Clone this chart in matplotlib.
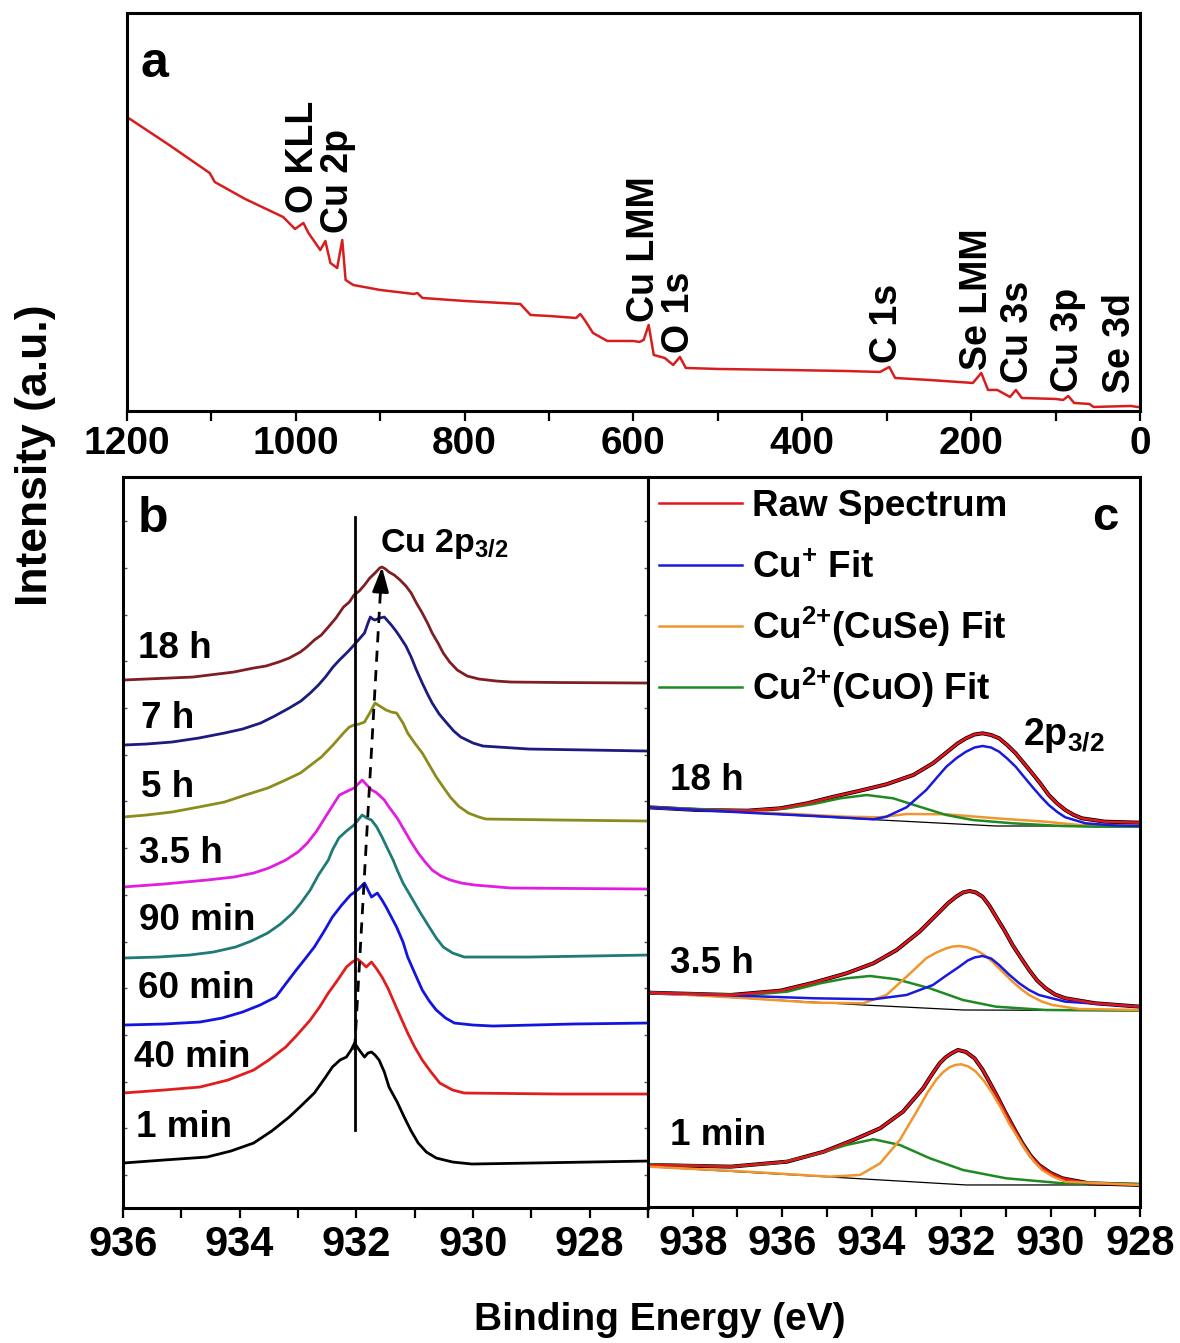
import numpy as np
import matplotlib
matplotlib.use("Agg")
import matplotlib.pyplot as plt
from matplotlib.ticker import MultipleLocator

# ---------------- survey spectrum (panel a) ----------------
survey_ev = [1200, 1150, 1102, 1096, 1060, 1040, 1015, 1001, 991, 985, 971, 965, 959,
             951, 945, 941, 932, 900, 860, 856, 850, 800, 734, 722, 700, 668, 663, 657,
             648, 631, 616, 600, 593, 588, 582, 576, 563, 553, 545, 538, 500, 420, 350,
             308, 297, 290, 250, 198, 188, 180, 169, 154, 147, 140, 100, 91, 85, 78, 60,
             55, 11, 3, 0]
survey_int = [294, 266, 238, 229, 212, 204, 194, 182, 188, 178, 161, 170, 148,
              143, 171, 131, 126, 121, 117, 118, 113, 110, 107, 96, 95, 93, 97, 90,
              78, 70, 70, 70, 69, 71, 86, 56, 53, 46, 54, 43, 42, 41, 40,
              39, 44, 33, 31, 28, 38, 21, 21, 14, 21, 13, 12, 11, 15, 8, 7,
              4, 5, 4, 4]
peak_names = ["O KLL", "Cu 2p", "Cu LMM", "O 1s", "C 1s", "Se LMM", "Cu 3s", "Cu 3p", "Se 3d"]
peak_label_ev = [991.5, 950, 587, 546, 299.5, 193, 144, 85, 23.5]
peak_label_y = [198, 178, 89, 58, 48, 41, 28, 19, 18]

# ---------------- Cu 2p3/2 time series (panel b) ----------------
b_labels = ["18 h", "7 h", "5 h", "3.5 h", "90 min", "60 min", "40 min", "1 min"]
b_colors = ["#7f1f24", "#1c1c7e", "#8c8c1e", "#e01ee0", "#1f7a78", "#1414e0", "#e01e1e", "#000000"]
b_label_ev = [935.74, 935.69, 935.69, 935.73, 935.73, 935.74, 935.81, 935.78]
b_label_y = [550, 480, 411, 345, 278, 210, 141, 71]

ev_18h = [936.0, 935.6, 935.2, 934.8, 934.38, 934.1, 933.76, 933.55, 933.33, 933.15,
          932.96, 932.85, 932.72, 932.6, 932.48, 932.35, 932.22, 932.12, 932.04, 931.95,
          931.86, 931.77, 931.68, 931.6, 931.56, 931.5, 931.44, 931.35, 931.25, 931.15,
          931.06, 930.97, 930.87, 930.78, 930.70, 930.6, 930.51, 930.4, 930.27, 930.1,
          929.90, 929.6, 929.35, 928.5, 927.0]
int_18h = [528, 529, 530, 531, 534, 536, 540, 542, 546, 550,
           556, 561, 568, 573, 581, 590, 601, 606, 613, 617,
           623, 630, 635, 640, 641, 639, 636, 633, 628, 622,
           615, 605, 595, 585, 575, 565, 555, 546, 538, 532,
           529, 527, 526, 525.5, 525]
ev_7h = [936.0, 935.6, 935.16, 934.7, 934.26, 933.95, 933.64, 933.4, 933.15, 932.95,
         932.79, 932.65, 932.53, 932.4, 932.29, 932.15, 932.04, 931.95, 931.86, 931.8,
         931.76, 931.72, 931.68, 931.6, 931.52, 931.46, 931.40, 931.32, 931.25, 931.15,
         931.06, 930.97, 930.87, 930.78, 930.70, 930.58, 930.45, 930.33, 930.21, 930.0,
         929.83, 929.04, 928.0, 927.0]
int_7h = [463, 464, 466, 470, 475, 479, 485, 492, 500, 507,
          515, 523, 531, 541, 548, 556, 563, 569, 575, 585,
          591, 589, 588, 590, 591, 587, 583, 577, 571, 562,
          551, 538, 525, 514, 505, 494, 485, 477, 471, 465,
          462, 459, 458, 457]
ev_5h = [936.0, 935.6, 935.16, 934.7, 934.26, 933.9, 933.52, 933.25, 932.96, 932.78,
         932.60, 932.4, 932.22, 932.12, 932.04, 931.95, 931.86, 931.77, 931.68, 931.6,
         931.49, 931.4, 931.31, 931.2, 931.12, 931.0, 930.87, 930.75, 930.63, 930.5,
         930.39, 930.25, 930.08, 929.9, 929.78, 928.5, 927.0]
int_5h = [391, 393, 396, 401, 406, 413, 420, 427, 435, 443,
          451, 463, 475, 481, 483, 484, 486, 495, 505, 502,
          498, 496, 495, 485, 475, 465, 455, 443, 431, 420,
          411, 402, 395, 391, 389, 388, 387]
ev_3h5 = [936.0, 935.3, 934.56, 934.1, 933.76, 933.5, 933.21, 933.0, 932.84, 932.68,
          932.53, 932.4, 932.29, 932.15, 932.04, 931.97, 931.90, 931.82, 931.74, 931.67,
          931.61, 931.52, 931.44, 931.3, 931.18, 931.06, 930.94, 930.82, 930.70, 930.55,
          930.39, 930.2, 929.97, 929.35, 927.0]
int_3h5 = [321, 324, 328, 331, 335, 340, 348, 356, 365, 377,
           391, 403, 413, 417, 420, 424, 428, 423, 418, 416,
           413, 408, 401, 390, 378, 366, 355, 346, 338, 332,
           328, 325, 323, 320, 319]
ev_90m = [936.0, 935.4, 934.86, 934.45, 934.07, 933.8, 933.52, 933.3, 933.09, 932.95,
          932.79, 932.65, 932.48, 932.41, 932.3, 932.17, 932.04, 931.97, 931.90, 931.82,
          931.74, 931.65, 931.56, 931.47, 931.37, 931.3, 931.2, 931.06, 930.9, 930.75,
          930.63, 930.51, 930.35, 930.15, 929.04, 928.0, 927.0]
int_90m = [250, 251, 253, 256, 261, 267, 275, 284, 295, 305,
           318, 333, 348, 358, 370, 377, 383, 388, 393, 390,
           388, 381, 371, 360, 348, 338, 325, 311, 295, 281,
           270, 261, 255, 251, 251, 252, 253]
ev_60m = [936.0, 935.3, 934.68, 934.3, 933.95, 933.65, 933.38, 933.2, 933.03, 932.88,
          932.72, 932.56, 932.41, 932.25, 932.10, 931.98, 931.86, 931.8, 931.74, 931.69,
          931.64, 931.56, 931.49, 931.4, 931.31, 931.2, 931.12, 931.0, 930.87, 930.75,
          930.63, 930.47, 930.32, 930.0, 929.66, 928.3, 927.0]
int_60m = [183, 184, 186, 190, 196, 203, 211, 225, 238, 249,
           261, 276, 291, 303, 313, 318, 325, 318, 311, 313,
           315, 308, 301, 291, 281, 266, 251, 235, 218, 207,
           198, 190, 185, 183, 182, 184, 185]
ev_40m = [936.0, 935.3, 934.68, 934.2, 933.76, 933.5, 933.21, 933.0, 932.79, 932.63,
          932.48, 932.32, 932.17, 932.07, 931.98, 931.9, 931.83, 931.78, 931.74, 931.65,
          931.56, 931.46, 931.37, 931.25, 931.12, 931.0, 930.87, 930.72, 930.57, 930.35,
          930.15, 928.5, 927.0]
int_40m = [115, 118, 121, 128, 138, 148, 161, 174, 188, 201,
           215, 228, 241, 246, 249, 245, 241, 244, 246, 239,
           231, 220, 208, 192, 175, 161, 148, 136, 125, 118,
           115, 114, 114]
ev_1m = [936.0, 935.3, 934.56, 934.15, 933.76, 933.45, 933.15, 932.95, 932.72, 932.55,
         932.41, 932.28, 932.17, 932.09, 932.03, 931.95, 931.86, 931.8, 931.74, 931.68,
         931.61, 931.52, 931.44, 931.3, 931.18, 931.06, 930.94, 930.8, 930.63, 930.35,
         930.02, 929.0, 927.0]
int_1m = [45, 48, 51, 57, 65, 77, 91, 102, 115, 129,
          141, 148, 151, 158, 165, 158, 151, 155, 156, 153,
          148, 136, 121, 106, 91, 77, 65, 56, 50, 46,
          44, 45, 47]
b_ev = [ev_18h, ev_7h, ev_5h, ev_3h5, ev_90m, ev_60m, ev_40m, ev_1m]
b_int = [int_18h, int_7h, int_5h, int_3h5, int_90m, int_60m, int_40m, int_1m]

# ---------------- peak fitting (panel c) ----------------
c_labels = ["18 h", "3.5 h", "1 min"]
c_label_y = [417, 234, 62]

# 18 h
c18_raw_ev = [939.0, 937.89, 936.78, 936.04, 935.44, 934.85, 934.26, 933.67, 933.07, 932.63,
              932.26, 932.08, 931.89, 931.70, 931.52, 931.33, 931.15, 930.97, 930.78, 930.6,
              930.41, 930.22, 930.04, 929.85, 929.67, 929.48, 929.30, 928.78, 928.0]
c18_raw = [399.7, 397.0, 396.3, 398.7, 403.7, 410.3, 416.3, 422.7, 432.0, 443.7,
           457.0, 463.5, 468.7, 472.5, 473.7, 472.0, 468.7, 462.0, 453.7, 444.0,
           433.7, 423.0, 412.0, 403.5, 397.0, 392.0, 388.7, 385.3, 384.3]
c18_cu1_ev = [939.0, 936.78, 935.30, 933.96, 933.67, 933.22, 932.78, 932.55, 932.33, 932.1,
              931.89, 931.70, 931.52, 931.33, 931.15, 930.97, 930.78, 930.6, 930.41, 930.22,
              930.04, 929.85, 929.67, 929.22, 928.63, 928.0]
c18_cu1 = [399.7, 394.3, 391.0, 387.7, 390.3, 399.7, 417.0, 429.0, 440.3, 449.0,
           455.3, 459.5, 461.0, 459.5, 455.3, 448.5, 440.3, 430.5, 420.3, 410.5,
           402.0, 395.0, 389.7, 383.7, 381.7, 381.0]
c18_cuse_ev = [939.0, 936.78, 934.56, 933.81, 933.22, 932.33, 931.22, 930.11, 929.37, 928.63, 928.0]
c18_cuse = [399.7, 395.3, 390.3, 389.7, 393.0, 392.7, 388.7, 385.3, 382.0, 381.0, 381.0]
c18_cuo_ev = [939.0, 936.78, 935.89, 935.30, 934.70, 934.11, 933.52, 932.93, 932.33, 931.74,
              930.85, 929.74, 929.0, 928.0]
c18_cuo = [399.7, 396.3, 398.7, 403.0, 408.7, 412.0, 408.7, 400.3, 392.0, 387.0,
           383.7, 381.0, 380.3, 380.3]
c18_bg_ev = [939.0, 933.81, 931.22, 928.0]
c18_bg = [399.7, 387.0, 381.0, 381.0]

# 3.5 h
c35_raw_ev = [939.0, 937.15, 936.04, 935.30, 934.56, 933.96, 933.44, 932.93, 932.48, 932.3,
              932.11, 931.96, 931.81, 931.67, 931.52, 931.37, 931.22, 931.03, 930.85, 930.66,
              930.48, 930.3, 930.11, 929.9, 929.67, 929.0, 928.0]
c35_raw = [214.3, 212.0, 216.3, 224.3, 233.7, 243.7, 257.0, 275.3, 295.3, 303.5,
           310.3, 314.5, 316.0, 314.5, 310.3, 301.5, 290.3, 276.5, 262.0, 249.0,
           237.0, 226.5, 218.7, 212.5, 208.7, 203.7, 200.3]
c35_cuse_ev = [939.0, 936.78, 935.30, 934.19, 933.67, 933.22, 932.78, 932.55, 932.33, 932.18,
               932.04, 931.86, 931.67, 931.48, 931.30, 931.08, 930.85, 930.66, 930.48, 930.2,
               929.96, 929.37, 928.0]
c35_cuse = [214.3, 208.7, 204.3, 203.7, 212.0, 230.3, 248.7, 254.5, 258.7, 260.5,
            261.0, 259.7, 257.0, 252.0, 245.3, 235.5, 225.3, 218.0, 212.0, 205.5,
            202.0, 198.0, 197.0]
c35_cu1_ev = [939.0, 936.78, 935.30, 933.96, 933.22, 932.63, 932.33, 932.04, 931.85, 931.70,
              931.52, 931.33, 931.15, 930.93, 930.70, 930.48, 930.26, 929.67, 928.78, 928.0]
c35_cu1 = [214.3, 211.0, 208.7, 207.7, 212.0, 222.0, 231.5, 240.3, 246.5, 249.5,
           251.0, 248.5, 242.0, 232.5, 223.7, 217.0, 212.0, 205.3, 202.7, 200.3]
c35_cuo_ev = [939.0, 936.78, 935.89, 935.15, 934.56, 934.04, 933.44, 932.70, 931.96, 931.22,
              930.11, 928.0]
c35_cuo = [214.3, 212.0, 215.3, 223.7, 228.7, 231.0, 227.7, 218.7, 207.0, 200.3,
           197.0, 196.3]
c35_bg_ev = [939.0, 934.19, 931.96, 928.0]
c35_bg = [214.3, 202.0, 197.0, 196.3]

# 1 min
c1_raw_ev = [939.0, 937.15, 935.89, 935.07, 934.41, 933.81, 933.30, 932.85, 932.66, 932.48,
             932.35, 932.22, 932.07, 931.89, 931.70, 931.53, 931.37, 931.18, 931.0, 930.81,
             930.63, 930.45, 930.26, 930.0, 929.74, 929.15, 928.0]
c1_raw = [42.0, 40.3, 45.3, 55.3, 67.0, 78.7, 95.3, 118.7, 132.0, 143.7,
          149.5, 153.5, 157.0, 155.0, 148.7, 138.0, 125.3, 109.5, 93.7, 78.0,
          63.7, 51.5, 42.0, 34.0, 28.7, 23.7, 22.0]
c1_cuse_ev = [939.0, 936.78, 934.93, 934.26, 933.81, 933.37, 932.93, 932.75, 932.56, 932.41,
              932.26, 932.13, 932.0, 931.84, 931.67, 931.48, 931.30, 931.11, 930.93, 930.74,
              930.56, 930.38, 930.19, 929.93, 929.67, 928.0]
c1_cuse = [40.3, 35.3, 30.3, 32.0, 43.7, 67.0, 100.3, 114.5, 127.0, 134.5,
           139.7, 142.0, 142.7, 140.5, 135.3, 125.5, 113.7, 99.0, 83.7, 70.0,
           57.0, 46.0, 37.0, 30.0, 25.3, 22.0]
c1_cuo_ev = [939.0, 937.15, 936.04, 935.30, 934.56, 933.96, 933.37, 932.70, 931.96, 931.0,
             929.74, 928.0]
c1_cuo = [42.7, 40.3, 44.3, 52.0, 62.0, 67.7, 62.0, 48.7, 37.0, 28.7,
          23.7, 23.0]
c1_bg_ev = [939.0, 934.56, 931.89, 928.0]
c1_bg = [40.3, 29.0, 22.0, 22.0]

c_raw_ev = [c18_raw_ev, c35_raw_ev, c1_raw_ev]
c_raw = [c18_raw, c35_raw, c1_raw]
c_bg_ev = [c18_bg_ev, c35_bg_ev, c1_bg_ev]
c_bg = [c18_bg, c35_bg, c1_bg]

col_raw = "#e8141c"
col_cu1 = "#1a1adc"
col_cuse = "#f0962f"
col_cuo = "#1f8a22"
leg_labels = ["Raw Spectrum", r"Cu$^{{+}}$ Fit", r"Cu$^{2{+}}$(CuSe) Fit", r"Cu$^{2{+}}$(CuO) Fit"]
leg_colors = [col_raw, col_cu1, col_cuse, col_cuo]

# ---------------- style ----------------
plt.rcParams['font.family'] = ['Liberation Sans', 'DejaVu Sans']
plt.rcParams['font.weight'] = 'bold'
plt.rcParams['mathtext.fontset'] = 'custom'
plt.rcParams['mathtext.rm'] = 'Liberation Sans:bold'
plt.rcParams['mathtext.it'] = 'Liberation Sans:bold'
plt.rcParams['mathtext.bf'] = 'Liberation Sans:bold'
plt.rcParams['axes.linewidth'] = 2.2

fig = plt.figure(figsize=(11.8, 13.43), dpi=100)

# ---------------- panel a ----------------
axa = fig.add_axes([0.1076, 0.694, 0.8585, 0.2963])
axa.plot(survey_ev, survey_int, color="#d71e1e", lw=1.8)
axa.set_xlim(1200, 0)
axa.set_ylim(0, 398)
axa.set_yticks([])
axa.xaxis.set_major_locator(MultipleLocator(200))
axa.xaxis.set_minor_locator(MultipleLocator(100))
axa.tick_params(axis='x', which='both', direction='out', length=7.5, width=1.6,
                labelsize=28, pad=3)
for name, xv, yv in zip(peak_names, peak_label_ev, peak_label_y):
    axa.text(xv, yv, name, rotation=90, ha='center', va='bottom', fontsize=27,
             fontweight='bold')
axa.text(0.013, 0.839, "a", transform=axa.transAxes, fontsize=36, va='baseline')

# ---------------- panel b ----------------
axb = fig.add_axes([0.1042, 0.1005, 0.4450, 0.5443])
for ev, yv, col in zip(b_ev, b_int, b_colors):
    axb.plot(ev, yv, color=col, lw=2.0)
for lab, xv, yv in zip(b_labels, b_label_ev, b_label_y):
    axb.text(xv, yv, lab, fontsize=26.5, ha='left', va='baseline')
axb.plot([932.03, 932.03], [78, 691], color='k', lw=2.0)
axb.plot([932.03, 931.585], [158, 618], color='k', lw=2.0, ls=(0, (4, 3)))
axb.annotate('', xy=(931.56, 641), xytext=(931.585, 616),
             arrowprops=dict(arrowstyle='-|>,head_length=0.75,head_width=0.25',
                             mutation_scale=20, color='k', lw=2, shrinkA=0, shrinkB=0))
axb.text(931.59, 656, r"Cu 2p$_{3/2}$", fontsize=24.5, ha='left', va='baseline')
axb.text(0.029, 0.925, "b", transform=axb.transAxes, fontsize=36, va='baseline')
axb.set_xlim(936, 927)
axb.set_ylim(0, 731)
axb.xaxis.set_major_locator(MultipleLocator(2))
axb.xaxis.set_minor_locator(MultipleLocator(1))
axb.tick_params(axis='x', which='both', direction='out', length=7.5, width=1.6,
                labelsize=30, pad=5)
axb.set_yticks(np.arange(33, 731, 46.7))
axb.tick_params(axis='y', which='both', direction='in', length=3, width=1,
                left=True, right=True, labelleft=False, color='#555555')

# ---------------- panel c ----------------
axc = fig.add_axes([0.5492, 0.1013, 0.4169, 0.5435])
for ev, yv in zip(c_bg_ev, c_bg):
    axc.plot(ev, yv, color='k', lw=0.9)
for ev, yv in zip(c_raw_ev, c_raw):
    axc.plot(ev, yv, color='k', lw=2.9)
axc.plot(c18_cuse_ev, c18_cuse, color=col_cuse, lw=1.8)
axc.plot(c18_cuo_ev, c18_cuo, color=col_cuo, lw=1.8)
axc.plot(c35_cuo_ev, c35_cuo, color=col_cuo, lw=1.8)
axc.plot(c35_cuse_ev, c35_cuse, color=col_cuse, lw=1.8)
axc.plot(c35_cu1_ev, c35_cu1, color=col_cu1, lw=1.8)
axc.plot(c1_cuo_ev, c1_cuo, color=col_cuo, lw=1.8)
for ev, yv in zip(c_raw_ev, c_raw):
    axc.plot(ev, yv, color=col_raw, lw=1.8)
axc.plot(c1_cuse_ev, c1_cuse, color=col_cuse, lw=1.8)
axc.plot(c18_cu1_ev, c18_cu1, color=col_cu1, lw=1.8)

for lab, yv in zip(c_labels, c_label_y):
    axc.text(938.51, yv, lab, fontsize=26.5, ha='left', va='baseline')
axc.text(930.62, 462, r"2p$_{3/2}$", fontsize=27, ha='left', va='baseline')
axc.text(0.902, 0.927, "c", transform=axc.transAxes, fontsize=34, va='baseline')

# key: short coloured strokes with their labels, stacked at the upper left
key_y = [0.9644, 0.8795, 0.7959, 0.7123]
for lab, col, yk in zip(leg_labels, leg_colors, key_y):
    axc.plot([0.0224, 0.191], [yk, yk], color=col, lw=1.8, transform=axc.transAxes,
             clip_on=False)
    axc.text(0.2114, yk - 0.0178, lab, fontsize=26.5, ha='left', va='baseline',
             transform=axc.transAxes)

axc.set_xlim(939, 928)
axc.set_ylim(0, 730)
axc.set_yticks([])
axc.xaxis.set_major_locator(MultipleLocator(2))
axc.xaxis.set_minor_locator(MultipleLocator(1))
axc.tick_params(axis='x', which='both', direction='out', length=7.5, width=1.6,
                labelsize=30, pad=5)

fig.text(0.559, 0.017, "Binding Energy (eV)", ha='center', va='center', fontsize=28)
fig.text(0.030, 0.661, "Intensity (a.u.)", rotation=90, ha='center', va='center', fontsize=32)

fig.savefig("out.png", dpi=100)
